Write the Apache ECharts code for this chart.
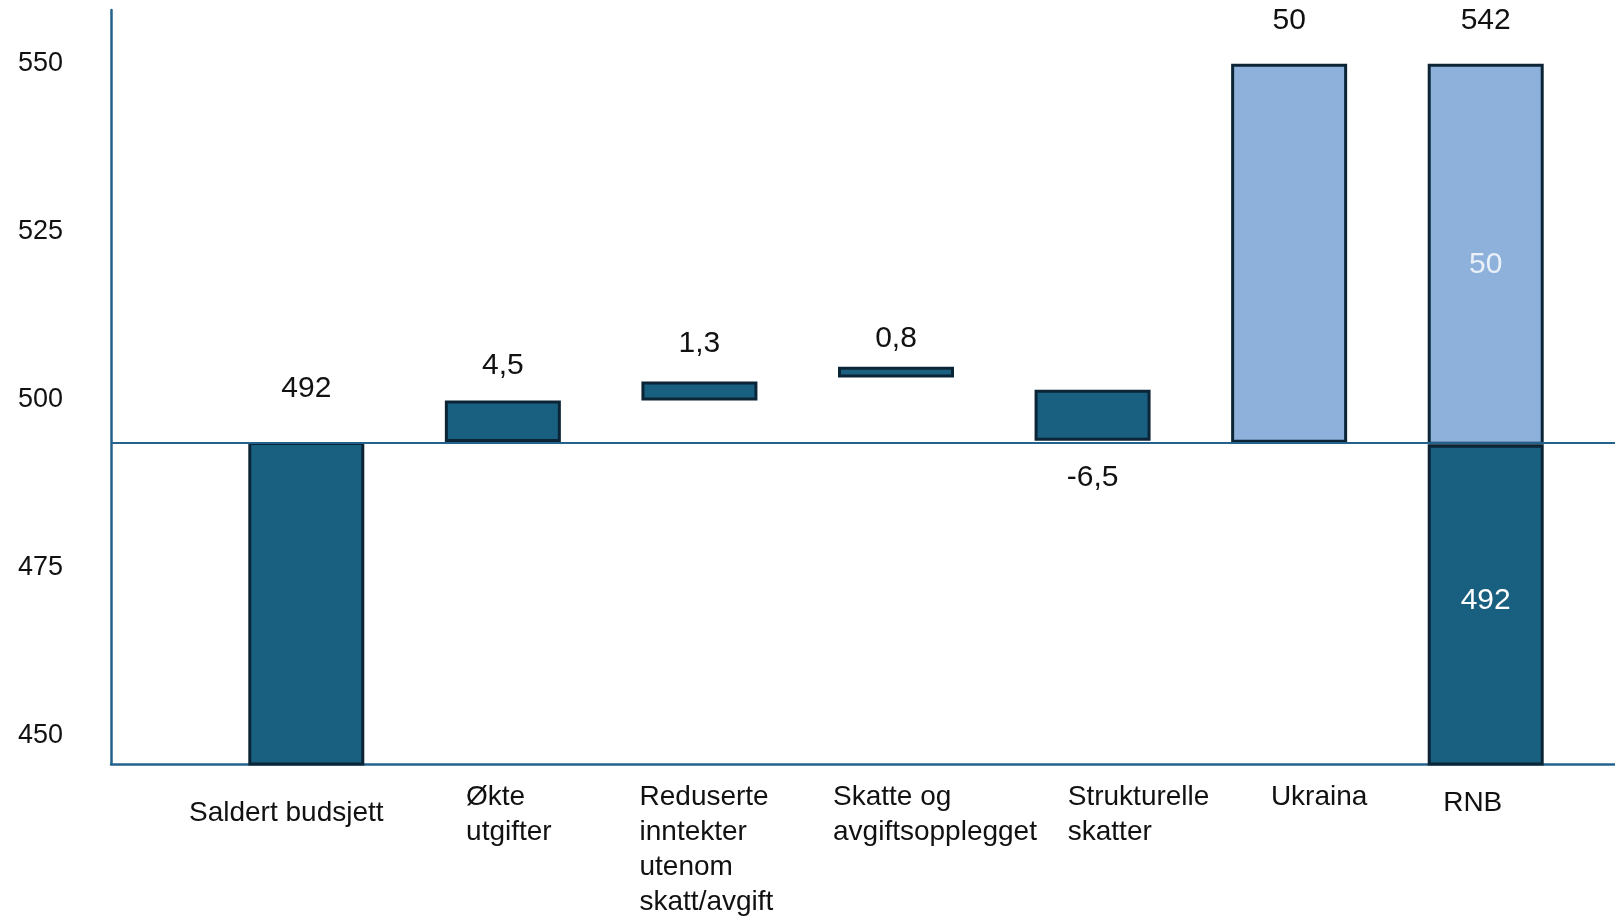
<!DOCTYPE html>
<html>
<head>
<meta charset="utf-8">
<script src="https://cdn.jsdelivr.net/npm/echarts@6/dist/echarts.min.js"></script>
<style>
  html, body { margin: 0; padding: 0; background: #fff; }
  #chart { width: 1615px; height: 917px; }
</style>
</head>
<body>
<div id="chart"></div>
<script>
  // categories (x axis)
  const categories = [
    'Saldert budsjett',
    'Økte\nutgifter',
    'Reduserte\ninntekter\nutenom\nskatt/avgift',
    'Skatte og\navgiftsopplegget',
    'Strukturelle\nskatter',
    'Ukraina',
    'RNB'
  ]
  // bar extents (the picture is not drawn to the labelled numbers)
  const offsets = [0, 493.7, 499.9, 503.3, 493.9, 493.6, 0]
  const darkPart = [493.7, 6.2, 2.8, 1.6, 7.6, '-', 493.3]
  const lightPart = ['-', '-', '-', '-', '-', 56.4, 56.7]
  // labels printed on the chart
  const valueLabels = ['492', '4,5', '1,3', '0,8', '-6,5', '50', '542']
  const rnbDarkLabel = '492'
  const rnbLightLabel = '50'
  const baseLine = 493.6
  const yTicks = [450, 475, 500, 525, 550]
  const yMin = 445.8
  const yMax = 558

  const font = 'Liberation Sans, Arial, sans-serif'
  const dark = '#195f80'
  const light = '#8db1db'
  const border = '#0b2536'
  const axisColor = '#23628c'

  // layout tweaks per category (not data)
  const labelGap = [38, 20, 23, 13, 22, 28, 28]
  const catShift = [-20, 6, 7, 39, 46, 30, -13]
  const catDrop = [16, 0, 0, 0, 0, 0, 6]

  const last = categories.length - 1
  const strukIdx = 4

  const chart = echarts.init(document.getElementById('chart'))

  const valueLabel = (text, pos, dist, color, offset) => ({
    show: true,
    position: pos,
    distance: dist,
    offset: offset || [0, 0],
    formatter: text,
    fontSize: 30,
    fontFamily: font,
    color: color || '#111'
  })

  chart.setOption({
    backgroundColor: '#fff',
    animation: false,
    grid: [
      { left: 111, right: 0, top: 10, bottom: 153, outerBoundsMode: 'none' },
      { left: 208, right: 31, top: 10, bottom: 153, outerBoundsMode: 'none' }
    ],
    xAxis: [
      {
        type: 'value',
        gridIndex: 0,
        min: 0,
        max: 1,
        axisLine: { show: true, lineStyle: { color: axisColor, width: 2.5 } },
        axisTick: { show: false },
        axisLabel: { show: false },
        splitLine: { show: false }
      },
      {
        type: 'category',
        gridIndex: 1,
        data: categories.map((c, i) => {
          const s = catShift[i]
          return {
            value: c,
            textStyle: {
              padding: [catDrop[i], s < 0 ? -2 * s : 0, 0, s > 0 ? 2 * s : 0]
            }
          }
        }),
        axisLine: { show: false },
        axisTick: { show: false },
        axisLabel: {
          interval: 0,
          margin: 16,
          fontSize: 28,
          lineHeight: 35,
          fontFamily: font,
          color: '#111',
          formatter: v => v.split('\n').map(s => '{a|' + s + '}').join('\n'),
          rich: {
            a: { align: 'left', fontSize: 28, lineHeight: 35, fontFamily: font, color: '#111' }
          }
        }
      }
    ],
    yAxis: [
      {
        type: 'value',
        gridIndex: 0,
        min: yMin,
        max: yMax,
        axisLine: { show: true, lineStyle: { color: axisColor, width: 2.5 } },
        axisTick: { show: false },
        splitLine: { show: false },
        axisLabel: {
          customValues: yTicks,
          margin: 48,
          fontSize: 27,
          fontFamily: font,
          color: '#111'
        }
      },
      {
        type: 'value',
        gridIndex: 1,
        min: yMin,
        max: yMax,
        show: false,
        splitLine: { show: false }
      }
    ],
    series: [
      {
        name: 'linje',
        type: 'line',
        xAxisIndex: 0,
        yAxisIndex: 0,
        data: [],
        markLine: {
          silent: true,
          symbol: 'none',
          label: { show: false },
          lineStyle: { color: axisColor, width: 2, type: 'solid' },
          data: [{ yAxis: baseLine }]
        }
      },
      {
        name: 'base',
        type: 'bar',
        xAxisIndex: 1,
        yAxisIndex: 1,
        stack: 'w',
        barWidth: 116,
        itemStyle: { color: 'transparent', borderWidth: 0 },
        data: offsets
      },
      {
        name: 'mørk',
        type: 'bar',
        xAxisIndex: 1,
        yAxisIndex: 1,
        stack: 'w',
        barWidth: 116,
        itemStyle: { color: dark, borderColor: border, borderWidth: 3 },
        data: darkPart.map((v, i) => {
          if (i === strukIdx) return { value: v, label: valueLabel(valueLabels[i], 'bottom', labelGap[i]) }
          if (i === last) return { value: v, label: valueLabel(rnbDarkLabel, 'inside', 0, '#ffffff', [0, -4]) }
          return v
        })
      },
      {
        name: 'lys',
        type: 'bar',
        xAxisIndex: 1,
        yAxisIndex: 1,
        stack: 'w',
        barWidth: 116,
        itemStyle: { color: light, borderColor: border, borderWidth: 3 },
        data: lightPart.map((v, i) => {
          if (i === last) return { value: v, label: valueLabel(rnbLightLabel, 'inside', 0, '#eaf0f8', [0, 10]) }
          return v
        })
      },
      {
        name: 'topp',
        type: 'bar',
        xAxisIndex: 1,
        yAxisIndex: 1,
        stack: 'w',
        barWidth: 116,
        itemStyle: { color: 'transparent', borderWidth: 0 },
        data: valueLabels.map((t, i) => i === strukIdx ? '-' : {
          value: 0,
          label: valueLabel(t, 'top', labelGap[i])
        })
      }
    ]
  })
</script>
</body>
</html>
